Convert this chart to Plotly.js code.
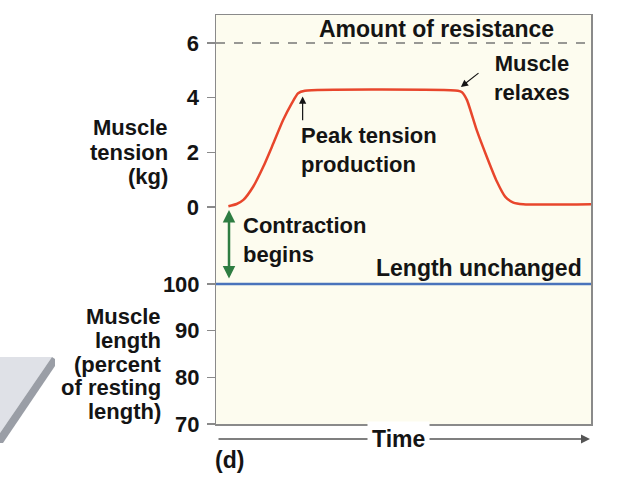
<!DOCTYPE html>
<html><head><meta charset="utf-8">
<script src="https://cdn.plot.ly/plotly-3.0.1.min.js"></script>
<style>html,body{margin:0;padding:0;background:#fff}#chart{width:624px;height:482px}</style>
</head><body><div id="chart"></div>
<script>
// ---- data ----
const time    = [3.3, 5.5, 7.3, 9.9, 12.6, 15.3, 17.9, 20.2, 21.9, 23.7, 64.5, 65.6, 66.9, 69.5, 72.2, 74.9, 77.1, 79.3, 81.9, 100];
const tension = [0.03, 0.11, 0.26, 0.74, 1.47, 2.33, 3.18, 3.79, 4.16, 4.25, 4.25, 4.2, 3.92, 2.82, 1.84, 0.93, 0.38, 0.16, 0.1, 0.1];
const resistanceTime = [0, 100];
const resistanceKg   = [6, 6];
const lengthTime = [0, 100];
const lengthPct  = [100, 100];
const tensionTicks    = [0, 2, 4, 6];
const tensionTickText = ['0', '2', '4', '6'];
const lengthTicks     = [70, 80, 90, 100];
const lengthTickText  = ['70', '80', '90', '100'];

// ---- layout helpers ----
const W = 624, H = 482, M = {l: 216, r: 33, t: 15, b: 58};
const PW = W - M.l - M.r, PH = H - M.t - M.b;
const px = x => (x - M.l) / PW;
const py = y => (H - M.b - y) / PH;
const FONT = 'Liberation Sans, Arial, Helvetica, sans-serif';
const INK = '#141414';
const txt = (text, x, y, xanchor, size) => ({
  text, xref: 'paper', yref: 'paper', x: px(x), y: py(y), xanchor, yanchor: 'middle', align: xanchor,
  showarrow: false, font: {family: FONT, size: size || 22, color: INK, weight: 'bold'}
});
const AX = '#8a8a8a';

const traces = [
  {x: resistanceTime, y: resistanceKg, type: 'scatter', mode: 'lines', yaxis: 'y',
   line: {color: '#777', width: 1.5, dash: 'dash'}, hoverinfo: 'skip'},
  {x: time, y: tension, type: 'scatter', mode: 'lines', yaxis: 'y',
   line: {color: '#e8462c', width: 2.5, shape: 'spline', smoothing: 0.6}, hoverinfo: 'skip'},
  {x: lengthTime, y: lengthPct, type: 'scatter', mode: 'lines', yaxis: 'y2',
   line: {color: '#4a73bb', width: 2.5}, hoverinfo: 'skip'}
];

const tickFont = {family: FONT, size: 22, color: INK, weight: 'bold'};

const annotations = [
  txt('Amount of resistance', 436.7, 29, 'center', 23),
  txt('Muscle<br>relaxes', 532, 78, 'center'),
  txt('Peak tension<br>production', 299, 150, 'left'),
  txt('Contraction<br>begins', 241, 240, 'left'),
  txt('Length unchanged', 478.7, 268.4, 'center', 23),
  txt('Muscle', 170, 127.4, 'right'),
  txt('tension', 170, 152.4, 'right'),
  txt('(kg)', 170, 176.4, 'right'),
  txt('Muscle', 163, 316.4, 'right'),
  txt('length', 163, 340.4, 'right'),
  txt('(percent', 163, 364.4, 'right'),
  txt('of resting', 163, 387.4, 'right'),
  txt('length)', 163, 411.4, 'right'),
  // time arrow
  {text: '', xref: 'paper', yref: 'paper', x: px(590), y: py(439), ax: -373, ay: 0,
   showarrow: true, arrowhead: 2, arrowsize: 1.2, arrowwidth: 1.5, arrowcolor: '#555'},
  Object.assign(txt('Time', 398.3, 439, 'center', 23), {bgcolor: '#ffffff', borderpad: 4}),
  txt('(d)', 213, 459.5, 'left', 23),
  // pointer arrows
  {text: '', xref: 'x', yref: 'y', axref: 'x', ayref: 'y', x: 23.1, y: 4.04, ax: 23.1, ay: 3.12,
   showarrow: true, arrowhead: 2, arrowsize: 1.2, arrowwidth: 1.2, arrowcolor: INK},
  {text: '', xref: 'x', yref: 'y', axref: 'x', ayref: 'y', x: 65.3, y: 4.39, ax: 70.4, ay: 4.94,
   showarrow: true, arrowhead: 2, arrowsize: 1.2, arrowwidth: 1.2, arrowcolor: INK},
  {text: '', xref: 'x', yref: 'y', axref: 'x', ayref: 'y', x: 3.47, y: -0.11, ax: 3.47, ay: -2.67,
   showarrow: true, arrowside: 'end+start', arrowhead: 2, arrowsize: 1, arrowwidth: 2.5, arrowcolor: '#2e7d42'}
];

const P = (pts) => 'M' + pts.map(p => px(p[0]) + ',' + py(p[1])).join(' L') + ' Z';
const shapes = [
  {type: 'path', xref: 'paper', yref: 'paper', path: P([[0,357],[52,357],[0,433]]),
   fillcolor: '#dfe1e7', line: {width: 0}},
  {type: 'path', xref: 'paper', yref: 'paper', path: P([[52,357],[55,359],[55,366],[3,443],[0,443],[0,433]]),
   fillcolor: '#9a9ea6', line: {width: 0}}
];

const layout = {
  width: W, height: H, margin: M,
  paper_bgcolor: '#ffffff', plot_bgcolor: '#fdfcef',
  showlegend: false,
  xaxis: {range: [0, 100], showline: true, mirror: true, linecolor: AX, linewidth: 1.5,
          showticklabels: false, ticks: '', showgrid: false, zeroline: false, fixedrange: true},
  yaxis: {range: [-7.939, 7.024], tickmode: 'array', tickvals: tensionTicks, ticktext: tensionTickText,
          ticks: 'outside', ticklen: 8, tickwidth: 1.5, tickcolor: AX, ticklabelstandoff: 3,
          showline: true, mirror: true, linecolor: AX, linewidth: 1.5,
          showgrid: false, zeroline: false, tickfont: tickFont, fixedrange: true},
  yaxis2: {range: [70, 157.64], overlaying: 'y', side: 'left', anchor: 'x',
           tickmode: 'array', tickvals: lengthTicks, ticktext: lengthTickText,
           ticks: 'outside', ticklen: 8, tickwidth: 1.5, tickcolor: AX, ticklabelstandoff: 3,
           showline: false, showgrid: false, zeroline: false, tickfont: tickFont, fixedrange: true},
  annotations, shapes
};

Plotly.newPlot('chart', traces, layout, {displayModeBar: false, staticPlot: true});
</script></body></html>
